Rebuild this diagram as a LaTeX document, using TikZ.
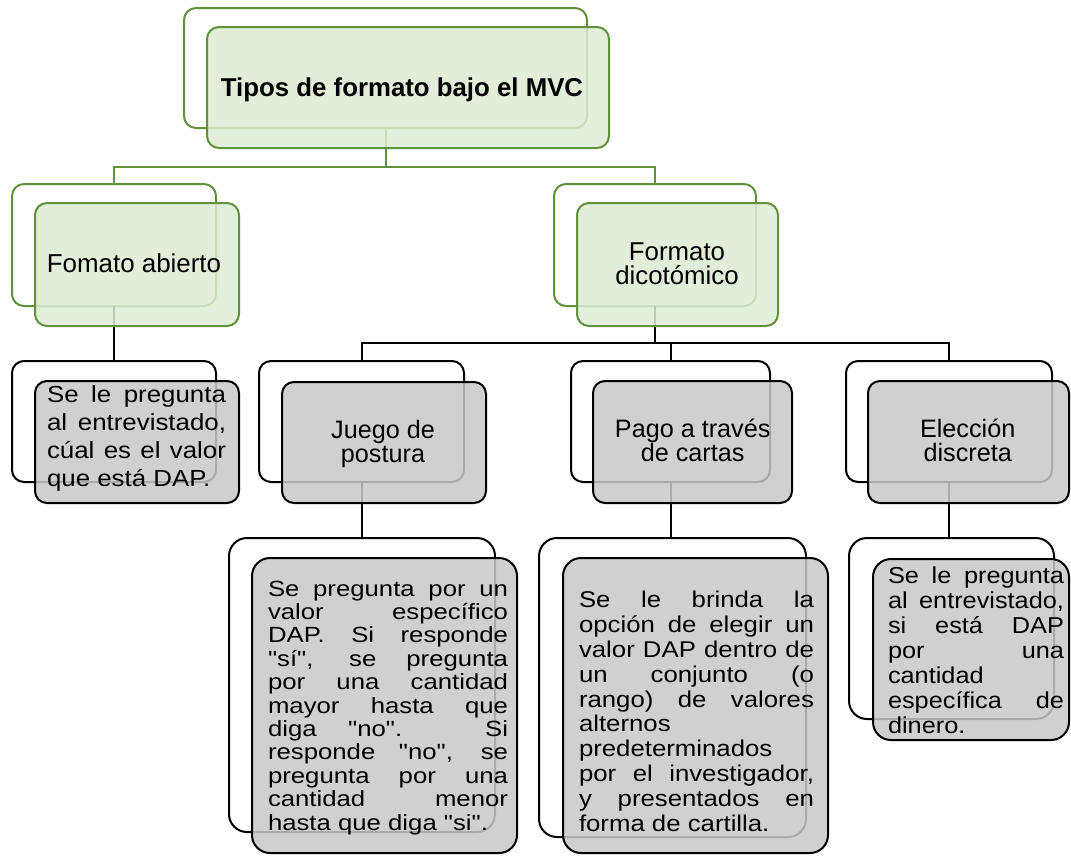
\documentclass[tikz,border=0pt]{standalone}
\usepackage{fontspec}
\setmainfont{Liberation Sans}
\newfontfamily\fA[FakeStretch=1.11]{Liberation Sans}
\newfontfamily\fB[FakeStretch=1.17]{Liberation Sans}
\newfontfamily\fC[FakeStretch=1.13]{Liberation Sans}
\newfontfamily\fD[FakeStretch=1.10]{Liberation Sans}
\definecolor{gcol}{RGB}{98,145,60}
\definecolor{gfill}{RGB}{221,236,211}
\definecolor{grayfill}{RGB}{200,200,200}
\newcommand{\myJ}[1]{\hbox to\hsize{#1}}
\newcommand{\myL}[1]{\hbox to\hsize{#1\hfil}}
\newcommand{\myC}[1]{\hbox to\hsize{\hfil#1\hfil}}
\begin{document}
\begin{tikzpicture}[x=1pt,y=-1pt,
  every node/.style={inner sep=0pt,outer sep=0pt},
  gback/.style={draw=gcol,line width=2pt,rounded corners=12pt,fill=white},
  gfront/.style={draw=gcol,line width=2pt,rounded corners=12pt,fill=gfill,fill opacity=0.85,draw opacity=1},
  kback/.style={draw=black,line width=2pt,rounded corners=12pt,fill=white},
  kfront/.style={draw=black,line width=2pt,rounded corners=12pt,fill=grayfill,fill opacity=0.85,draw opacity=1},
  bigc/.style={rounded corners=18pt},
  gconn/.style={draw=gcol,line width=2pt},
  kconn/.style={draw=black,line width=2pt},
  midtxt/.style={anchor=base,font=\fontsize{25}{25}\selectfont}
]
\useasboundingbox (0,0) rectangle (1071,855);

% back boxes
\node[gback,minimum width=403pt,minimum height=120pt] (tb) at (385.5,68) {};
\node[gback,minimum width=204pt,minimum height=122pt] (ab) at (114,245) {};
\node[gback,minimum width=202pt,minimum height=122pt] (db) at (655,245) {};
\node[kback,minimum width=204pt,minimum height=121pt] (lb) at (114,421.5) {};
\node[kback,minimum width=205pt,minimum height=121pt] (jb) at (361.5,421.5) {};
\node[kback,minimum width=199pt,minimum height=121pt] (pb) at (670.5,421.5) {};
\node[kback,minimum width=206pt,minimum height=121pt] (eb) at (949,421.5) {};
\node[kback,bigc,minimum width=266pt,minimum height=294pt] (j4b) at (362,685) {};
\node[kback,bigc,minimum width=267pt,minimum height=299pt] (p4b) at (672.5,687.5) {};
\node[kback,bigc,minimum width=205pt,minimum height=181pt] (e4b) at (951.5,628.5) {};

% connectors
\coordinate (j1) at (0,167);
\coordinate (j2) at (0,343);
\draw[gconn] (tb.south) -- (tb.south |- j1) -| (ab.north);
\draw[gconn] (tb.south |- j1) -| (db.north);
\draw[kconn] (ab.south) -- (lb.north);
\draw[kconn] (db.south) -- (db.south |- j2) -| (jb.north);
\draw[kconn] (db.south |- j2) -| (pb.north);
\draw[kconn] (db.south |- j2) -| (eb.north);
\draw[kconn] (jb.south) -- (jb.south |- j4b.north);
\draw[kconn] (pb.south) -- (pb.south |- p4b.north);
\draw[kconn] (eb.south) -- (eb.south |- e4b.north);

% front boxes
\node[gfront,minimum width=402pt,minimum height=121pt] (tf) at (408,87.5) {};
\node[gfront,minimum width=204pt,minimum height=123pt] (af) at (137,264.5) {};
\node[gfront,minimum width=201pt,minimum height=123pt] (df) at (677.5,264.5) {};
\node[kfront,minimum width=204pt,minimum height=122pt] (lf) at (137,442) {};
\node[kfront,minimum width=204pt,minimum height=121pt] (jf) at (384,442.5) {};
\node[kfront,minimum width=199pt,minimum height=122pt] (pf) at (692.5,442) {};
\node[kfront,minimum width=201pt,minimum height=122pt] (ef) at (968.5,442) {};
\node[kfront,bigc,minimum width=265pt,minimum height=295pt] (j4f) at (384.5,705.5) {};
\node[kfront,bigc,minimum width=265pt,minimum height=295pt] (p4f) at (695.5,705.5) {};
\node[kfront,bigc,minimum width=196pt,minimum height=181pt] (e4f) at (971,649.5) {};

% texts
\node[anchor=base] (tt) at (402,96.7) {\fontsize{25.8}{28}\selectfont\bfseries Tipos de formato bajo el MVC};
\node[anchor=base] (at) at (134,272.7) {\fontsize{25.9}{26}\selectfont Fomato abierto};
\node[midtxt] (dt) at (677,284.3) {\vbox{\hsize=200pt\fontsize{25.8}{24.3}\selectfont\myC{Formato}\myC{dicotómico}}};
\node[midtxt] (jt) at (383,462.3) {\vbox{\hsize=200pt\fontsize{25.2}{24}\selectfont\myC{Juego de}\myC{postura}}};
\node[midtxt] (pt) at (692.7,461.7) {\vbox{\hsize=200pt\fontsize{25.2}{24}\selectfont\myC{Pago a través}\myC{de cartas}}};
\node[midtxt] (et) at (967.7,461.7) {\vbox{\hsize=200pt\fontsize{25.2}{24}\selectfont\myC{Elección}\myC{discreta}}};

\node[anchor=base west] (lt) at (47,486) {\vbox{\hsize=179pt\fA\fontsize{23.3}{28}\selectfont
  \myJ{Se le pregunta}\myJ{al entrevistado,}\myJ{cúal es el valor}\myL{que está DAP.}}};
\node[anchor=base west] (j4t) at (268,830) {\vbox{\hsize=240pt\fB\fontsize{22}{23.4}\selectfont
  \myJ{Se pregunta por un}\myJ{valor específico}\myJ{DAP. Si responde}\myJ{"sí", se pregunta}%
  \myJ{por una cantidad}\myJ{mayor hasta que}\myJ{diga "no". Si}\myJ{responde "no", se}%
  \myJ{pregunta por una}\myJ{cantidad menor}\myL{hasta que diga "si".}}};
\node[anchor=base west] (p4t) at (579,831) {\vbox{\hsize=235pt\fC\fontsize{22.8}{24.8}\selectfont
  \myJ{Se le brinda la}\myJ{opción de elegir un}\myJ{valor DAP dentro de}\myJ{un conjunto (o}%
  \myJ{rango) de valores}\myL{alternos}\myL{predeterminados}\myJ{por el investigador,}%
  \myJ{y presentados en}\myL{forma de cartilla.}}};
\node[anchor=base west] (e4t) at (888,733) {\vbox{\hsize=176pt\fD\fontsize{23}{25}\selectfont
  \myJ{Se le pregunta}\myJ{al entrevistado,}\myJ{si está DAP}\myJ{por una}%
  \myL{cantidad}\myJ{específica de}\myL{dinero.}}};
\end{tikzpicture}
\end{document}
